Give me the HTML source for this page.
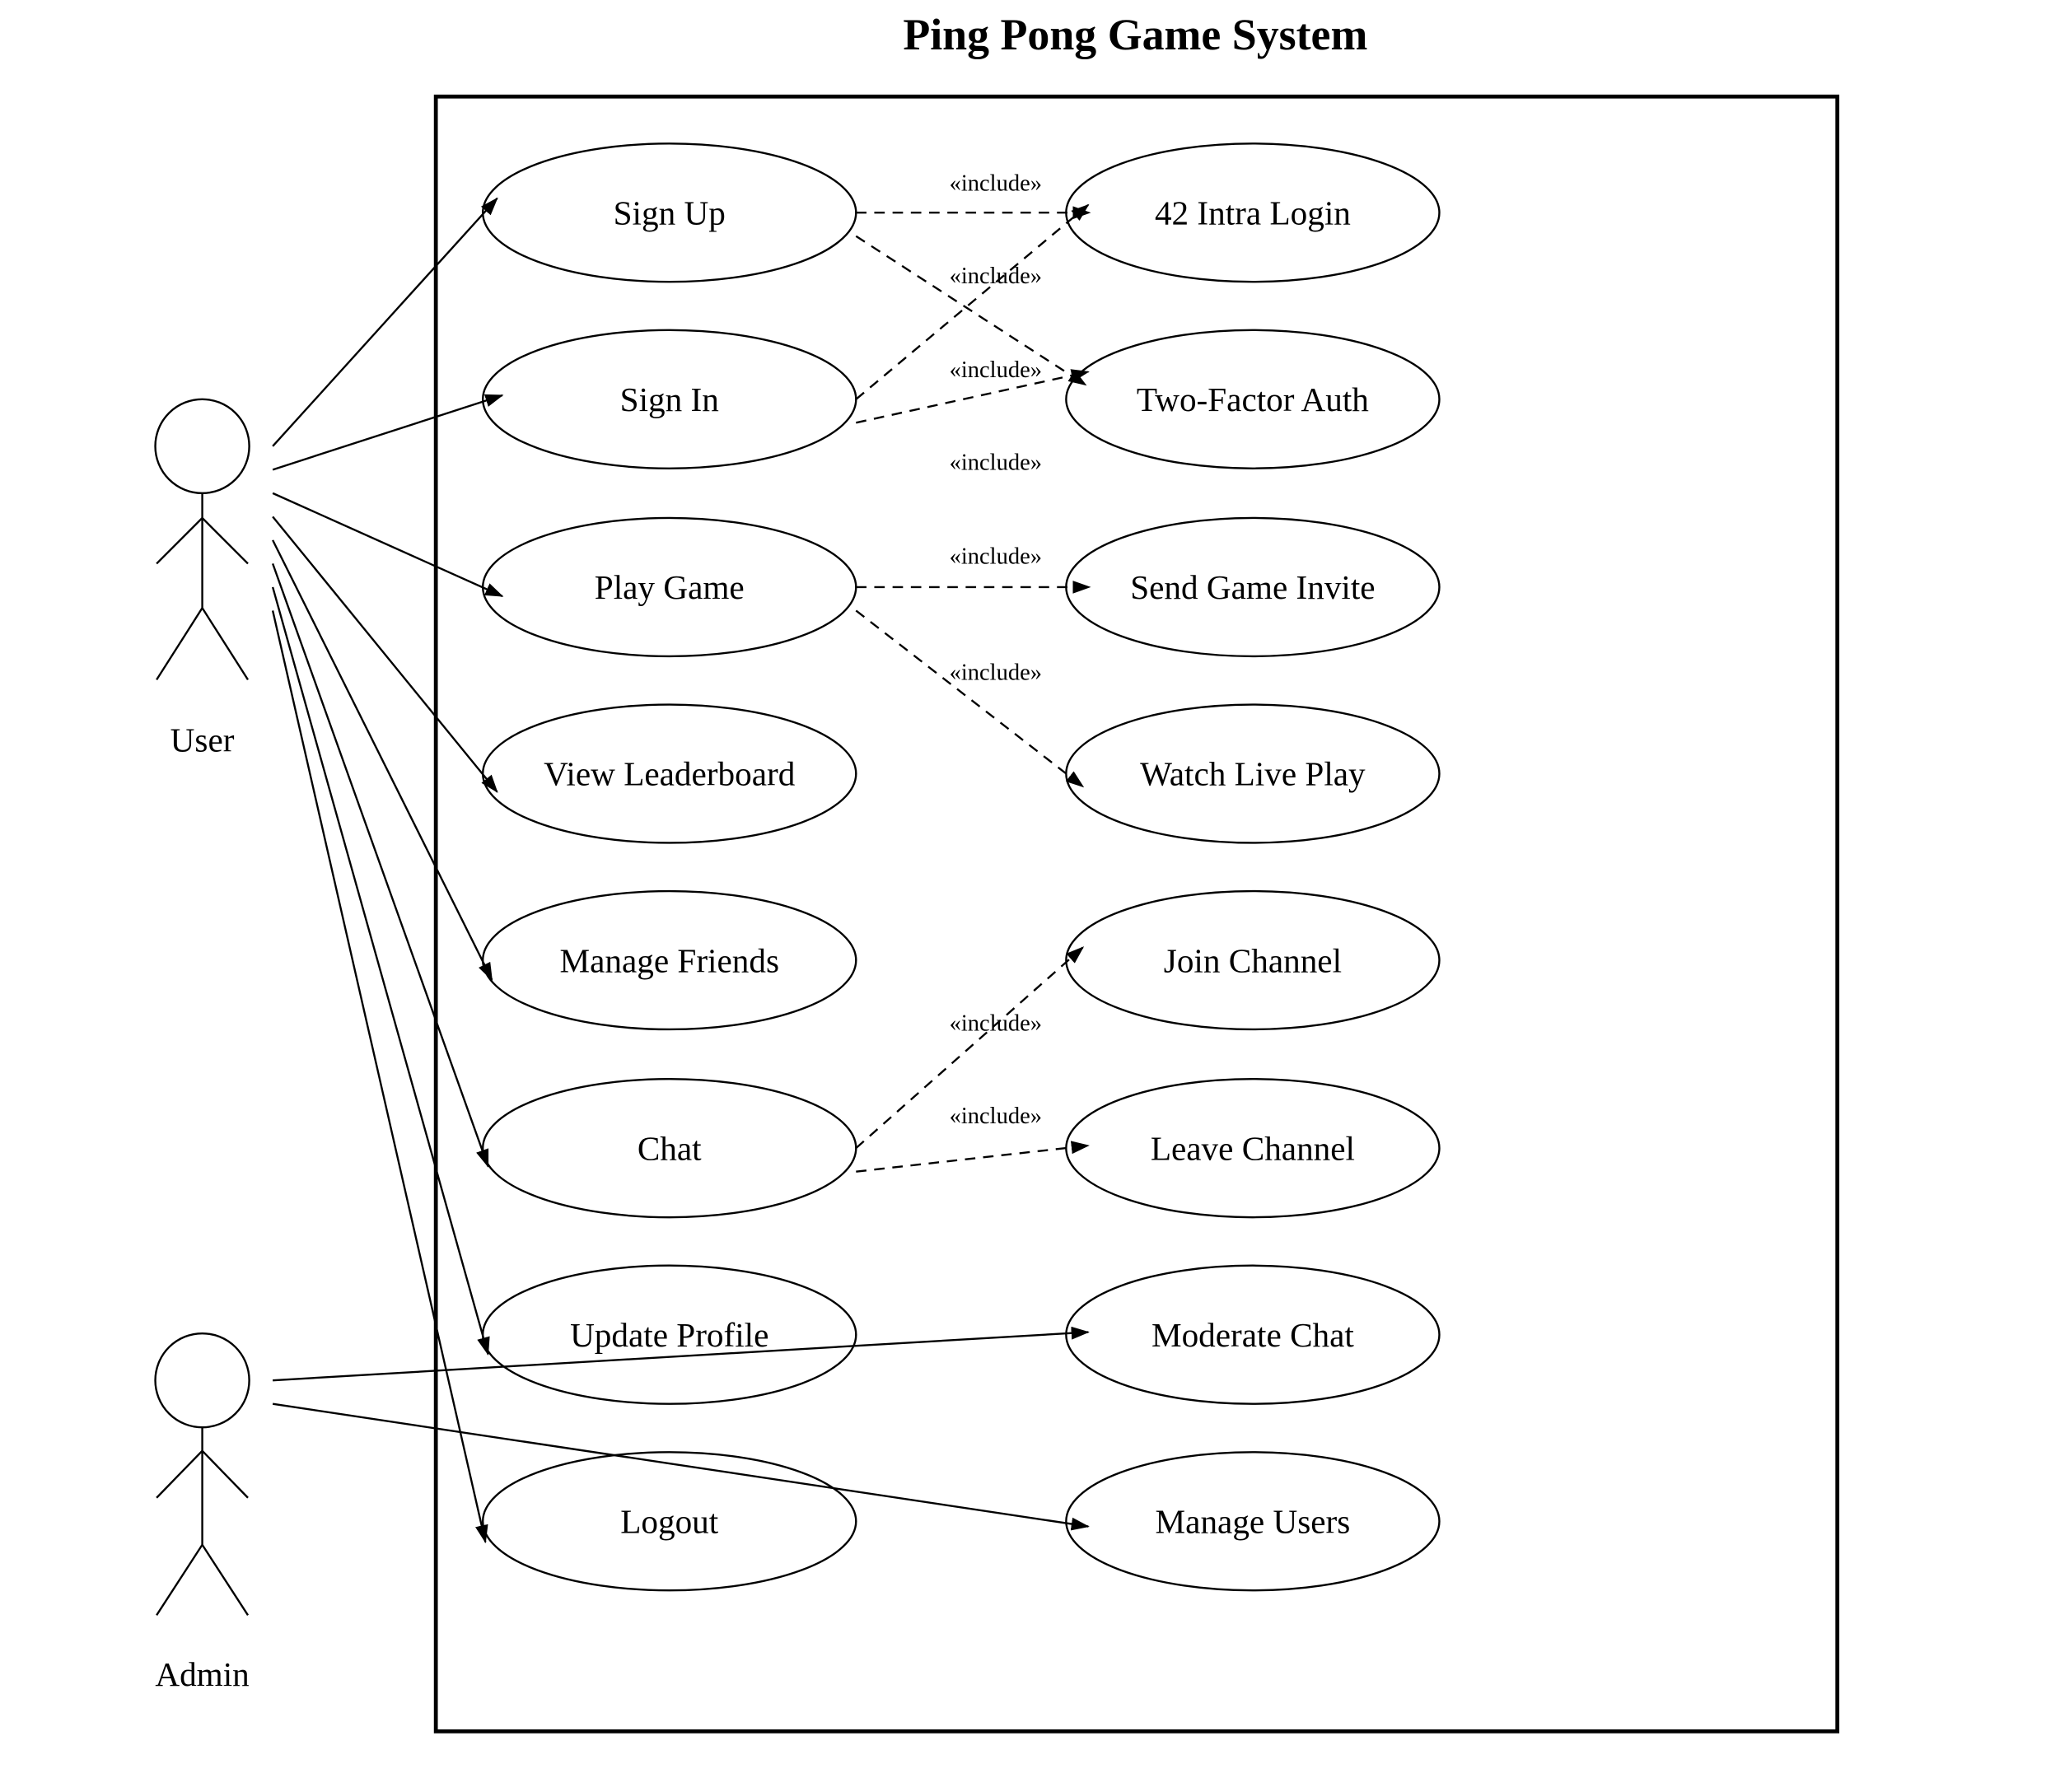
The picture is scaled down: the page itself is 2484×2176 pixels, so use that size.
<!DOCTYPE html>
<html><head><meta charset="utf-8"><style>html,body{margin:0;padding:0;background:#fff}svg{display:block}</style></head>
<body>
<svg width="2484" height="2176" viewBox="0 0 1567.9 1373.5" preserveAspectRatio="none" xmlns="http://www.w3.org/2000/svg" font-family="'Liberation Serif', serif">
<defs>
<marker id="a" markerWidth="14" markerHeight="10" refX="13" refY="5" orient="auto" markerUnits="userSpaceOnUse"><path d="M0,0 L14,5 L0,10 Z" fill="#000"/></marker>
</defs>
<rect width="1567.9" height="1373.5" fill="#fff"/>
<text x="870" y="38" font-size="34" font-weight="bold" text-anchor="middle">Ping Pong Game System</text>
<rect x="334" y="74" width="1074" height="1253" fill="none" stroke="#000" stroke-width="3"/>
<g fill="none" stroke="#000" stroke-width="1.5">
<ellipse cx="513" cy="163" rx="143" ry="53"/><ellipse cx="513" cy="306" rx="143" ry="53"/>
<ellipse cx="513" cy="450" rx="143" ry="53"/><ellipse cx="513" cy="593" rx="143" ry="53"/>
<ellipse cx="513" cy="736" rx="143" ry="53"/><ellipse cx="513" cy="880" rx="143" ry="53"/>
<ellipse cx="513" cy="1023" rx="143" ry="53"/><ellipse cx="513" cy="1166" rx="143" ry="53"/>
<ellipse cx="960" cy="163" rx="143" ry="53"/><ellipse cx="960" cy="306" rx="143" ry="53"/>
<ellipse cx="960" cy="450" rx="143" ry="53"/><ellipse cx="960" cy="593" rx="143" ry="53"/>
<ellipse cx="960" cy="736" rx="143" ry="53"/><ellipse cx="960" cy="880" rx="143" ry="53"/>
<ellipse cx="960" cy="1023" rx="143" ry="53"/><ellipse cx="960" cy="1166" rx="143" ry="53"/>
<circle cx="155" cy="342" r="36"/><path d="M155,378V466M120,432L155,397L190,432M120,521L155,466L190,521"/>
<circle cx="155" cy="1058" r="36"/><path d="M155,1094V1184M120,1148L155,1112L190,1148M120,1238L155,1184L190,1238"/>
<g marker-end="url(#a)">
<line x1="209" y1="342" x2="381" y2="152"/><line x1="209" y1="360" x2="385" y2="303"/>
<line x1="209" y1="378" x2="385" y2="457"/><line x1="209" y1="396" x2="381" y2="607"/>
<line x1="209" y1="414" x2="377" y2="751"/><line x1="209" y1="432" x2="374" y2="894"/>
<line x1="209" y1="450" x2="374" y2="1038"/><line x1="209" y1="468" x2="372" y2="1182"/>
<line x1="209" y1="1058" x2="834" y2="1021"/><line x1="209" y1="1076" x2="834" y2="1170"/>
</g>
<g stroke-dasharray="8,6" marker-end="url(#a)">
<line x1="656" y1="163" x2="835" y2="163"/><line x1="656" y1="181" x2="832" y2="295"/>
<line x1="656" y1="306" x2="834" y2="157"/><line x1="656" y1="324" x2="834" y2="285"/>
<line x1="656" y1="450" x2="835" y2="450"/><line x1="656" y1="468" x2="830" y2="603"/>
<line x1="656" y1="880" x2="830" y2="726"/><line x1="656" y1="898" x2="834" y2="878"/>
</g>
</g>
<g font-size="26" text-anchor="middle">
<text x="513" y="172">Sign Up</text><text x="513" y="315">Sign In</text>
<text x="513" y="459">Play Game</text><text x="513" y="602">View Leaderboard</text>
<text x="513" y="745">Manage Friends</text><text x="513" y="889">Chat</text>
<text x="513" y="1032">Update Profile</text><text x="513" y="1175">Logout</text>
<text x="960" y="172">42 Intra Login</text><text x="960" y="315">Two-Factor Auth</text>
<text x="960" y="459">Send Game Invite</text><text x="960" y="602">Watch Live Play</text>
<text x="960" y="745">Join Channel</text><text x="960" y="889">Leave Channel</text>
<text x="960" y="1032">Moderate Chat</text><text x="960" y="1175">Manage Users</text>
<text x="155" y="576">User</text><text x="155" y="1292">Admin</text>
</g>
<g font-size="18" text-anchor="middle">
<text x="763" y="146">«include»</text><text x="763" y="217">«include»</text>
<text x="763" y="289">«include»</text><text x="763" y="360">«include»</text>
<text x="763" y="432">«include»</text><text x="763" y="521">«include»</text>
<text x="763" y="790">«include»</text><text x="763" y="861">«include»</text>
</g>
</svg>
</body></html>
